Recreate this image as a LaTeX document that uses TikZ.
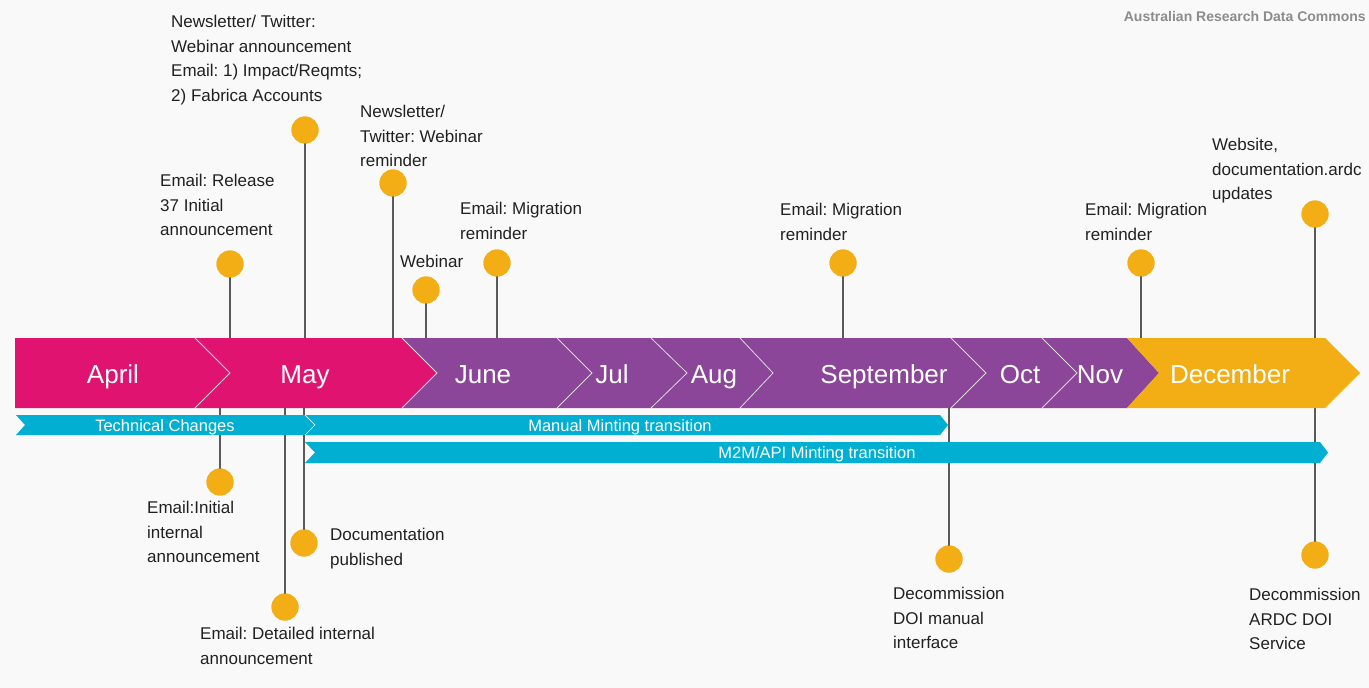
\documentclass[tikz,border=0pt]{standalone}
\usepackage{fontspec}
\setmainfont{Liberation Sans}
\frenchspacing
\definecolor{bgc}{RGB}{249,249,249}
\definecolor{pinkc}{RGB}{224,20,112}
\definecolor{purplec}{RGB}{139,69,153}
\definecolor{goldc}{RGB}{242,174,20}
\definecolor{cyanc}{RGB}{0,175,209}
\definecolor{txtc}{RGB}{33,33,33}
\definecolor{linec}{RGB}{90,90,90}
\definecolor{brandc}{RGB}{140,140,140}
\begin{document}
\begin{tikzpicture}[x=1pt,y=-1pt,
  ev/.style={anchor=north west, align=left, inner sep=0pt, text=txtc, font=\fontsize{17}{24.5}\selectfont},
  dot/.style={circle, fill=goldc, minimum size=27pt, inner sep=0pt},
  stem/.style={draw=linec, line width=1.3pt},
  month/.style={anchor=base, text=white, inner sep=0pt, font=\fontsize{26}{30}\selectfont},
  bartxt/.style={anchor=base, text=white, inner sep=0pt, font=\fontsize{16.5}{20}\selectfont},
  chev/.style={draw=white!85!black, line width=0.8pt, line join=miter}]
\fill[bgc] (0,0) rectangle (1369,688);
\useasboundingbox (0,0) rectangle (1369,688);

% brand
\node[anchor=east, inner sep=0pt, text=brandc, font=\bfseries\fontsize{14}{16}\selectfont] (brand) at (1366,16) {Australian Research Data Commons};

% circles
\node[dot] (t1) at (230,264) {};
\node[dot] (t2) at (305,130) {};
\node[dot] (t3) at (393,183) {};
\node[dot] (t4) at (426,290) {};
\node[dot] (t5) at (497,263) {};
\node[dot] (t6) at (843,263) {};
\node[dot] (t7) at (1141,263) {};
\node[dot] (t8) at (1315,214) {};
\node[dot] (b1) at (220,482) {};
\node[dot] (b2) at (285,607) {};
\node[dot] (b3) at (304,543) {};
\node[dot] (b4) at (949,559) {};
\node[dot] (b5) at (1315,555) {};

% stem end points
\coordinate (ct1) at (230,340);
\coordinate (ct2) at (305,340);
\coordinate (ct3) at (393,340);
\coordinate (ct4) at (426,340);
\coordinate (ct5) at (497,340);
\coordinate (ct6) at (843,340);
\coordinate (ct7) at (1141,340);
\coordinate (ct8) at (1315,340);
\coordinate (cb1) at (220,406);
\coordinate (cb2) at (285,406);
\coordinate (cb3) at (304,406);
\coordinate (cb4) at (949,406);
\coordinate (cb5) at (1315,406);

\foreach \n in {t1,t2,t3,t4,t5,t6,t7,t8,b1,b2,b3,b4,b5}{\draw[stem] (\n.center) -- (c\n);}
% redraw circles on top of stems
\foreach \p/\q in {230/264,305/130,393/183,426/290,497/263,843/263,1141/263,1315/214,220/482,285/607,304/543,949/559,1315/555}{\fill[goldc] (\p,\q) circle (13.5);}

% month band
\fill[pinkc] (15,338) -- (195,338) -- (230,373) -- (195,408) -- (15,408) -- cycle;
\fill[pinkc] (195,338) -- (402,338) -- (437,373) -- (402,408) -- (195,408) -- (230,373) -- cycle;
\fill[purplec] (402,338) -- (557,338) -- (592,373) -- (557,408) -- (402,408) -- (437,373) -- cycle;
\fill[purplec] (557,338) -- (651,338) -- (687,373) -- (651,408) -- (557,408) -- (592,373) -- cycle;
\fill[purplec] (651,338) -- (740,338) -- (773,373) -- (740,408) -- (651,408) -- (687,373) -- cycle;
\fill[purplec] (740,338) -- (951,338) -- (986,373) -- (951,408) -- (740,408) -- (773,373) -- cycle;
\fill[purplec] (951,338) -- (1042,338) -- (1077,373) -- (1042,408) -- (951,408) -- (986,373) -- cycle;
\fill[purplec] (1042,338) -- (1127,338) -- (1159,373) -- (1127,408) -- (1042,408) -- (1077,373) -- cycle;
\fill[goldc] (1127,338) -- (1325,338) -- (1360,373) -- (1325,408) -- (1127,408) -- (1159,373) -- cycle;
\foreach \a/\b in {195/230,402/437,557/592,651/687,740/773,951/986,1042/1077}{\draw[chev] (\a,338) -- (\b,373) -- (\a,408);}

\node[month] (mApr) at (113,383) {April};
\node[month] (mMay) at (305,383) {May};
\node[month] (mJun) at (483,383) {June};
\node[month] (mJul) at (612,383) {Jul};
\node[month] (mAug) at (714,383) {Aug};
\node[month] (mSep) at (884,383) {September};
\node[month] (mOct) at (1020,383) {Oct};
\node[month] (mNov) at (1100,383) {Nov};
\node[month] (mDec) at (1230,383) {December};

% bars
\fill[cyanc] (16,415) -- (305,415) -- (315,425) -- (305,435) -- (16,435) -- (25,425) -- cycle;
\fill[cyanc] (305,415) -- (940,415) -- (948,425) -- (940,435) -- (305,435) -- (315,425) -- cycle;
\fill[cyanc] (305,442) -- (1320,442) -- (1328,452.5) -- (1320,463) -- (305,463) -- (315,452.5) -- cycle;
\draw[white, line width=0.6pt] (305,415) -- (315,425) -- (305,435);
\node[bartxt] (bTech) at (165,431) {Technical Changes};
\node[bartxt] (bMan) at (620,431) {Manual Minting transition};
\node[bartxt] (bM2M) at (817,458) {M2M/API Minting transition};

% event labels
\node[ev] (lt1) at (160,174) {Email: Release\\37 Initial\\announcement};
\node[ev] (lt2) at (171,15) {Newsletter/ Twitter:\\Webinar announcement\\Email: 1) Impact/Reqmts;\\2) Fabrica Accounts};
\node[ev] (lt3) at (360,105) {Newsletter/\\Twitter: Webinar\\reminder};
\node[ev] (lt4) at (400,255) {Webinar};
\node[ev] (lt5) at (460,202) {Email: Migration\\reminder};
\node[ev] (lt6) at (780,203) {Email: Migration\\reminder};
\node[ev] (lt7) at (1085,203) {Email: Migration\\reminder};
\node[ev] (lt8) at (1212,138) {Website,\\documentation.ardc\\updates};
\node[ev] (lb1) at (147,501) {Email:Initial\\internal\\announcement};
\node[ev] (lb2) at (200,627) {Email: Detailed internal\\announcement};
\node[ev] (lb3) at (330,528) {Documentation\\published};
\node[ev] (lb4) at (893,587) {Decommission\\DOI manual\\interface};
\node[ev] (lb5) at (1249,588) {Decommission\\ARDC DOI\\Service};
\end{tikzpicture}
\end{document}
